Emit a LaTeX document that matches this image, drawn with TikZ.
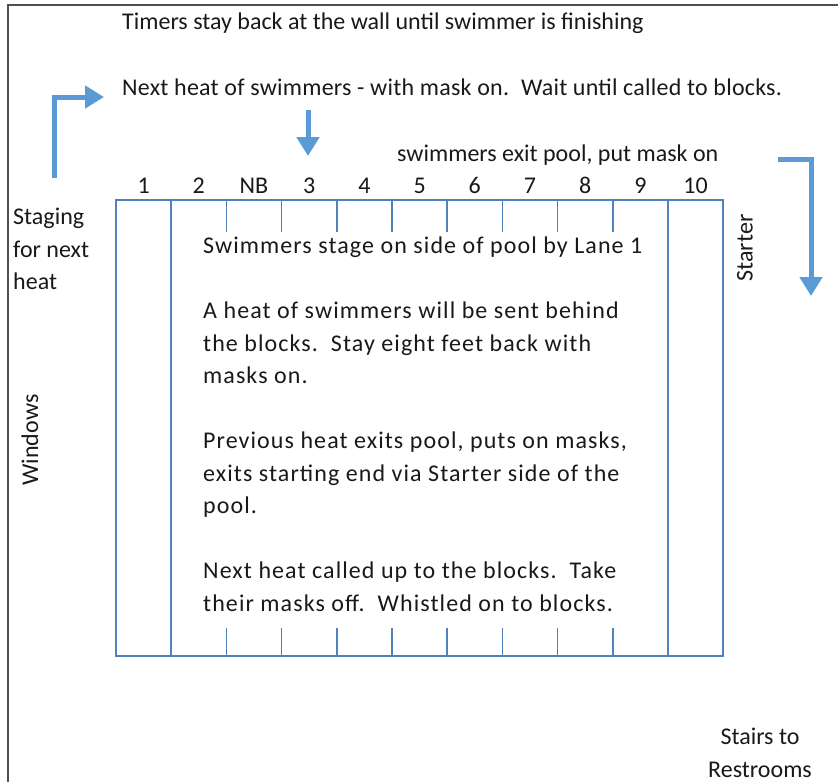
\documentclass[tikz,border=0pt]{standalone}
\usepackage{fontspec}
\setmainfont{Carlito}
\usetikzlibrary{arrows.meta}
\definecolor{poolblue}{HTML}{4F81BD}
\definecolor{flowblue}{HTML}{5B9BD5}
\definecolor{framegray}{HTML}{505050}
\tikzset{
  lbl/.style={font=\fontsize{24}{32.5}\selectfont, inner sep=0pt, text=black!90},
  block/.style={lbl, font=\fontsize{24}{32.5}\selectfont\addfontfeatures{LetterSpace=4.5}},
  poolline/.style={draw=poolblue, line width=1.5pt},
  flow/.style={draw=flowblue, line width=5pt, line join=miter, -{Triangle[length=19pt,width=22pt]}},
}
\begin{document}
\begin{tikzpicture}[x=1pt,y=-1pt]
\useasboundingbox (0,0) rectangle (838,782);
\draw [framegray, line width=2pt] (838,5) -- (8,5) -- (8,782);
\node [lbl, anchor=base west] (timers) at (122,29) {Timers stay back at the wall until swimmer is finishing};
\node [lbl, anchor=base west] (nextheat) at (122,95) {\addfontfeatures{LetterSpace=1}Next heat of swimmers - with mask on.\hspace{12pt}Wait until called to blocks.};
\node [lbl, anchor=base west] (exit) at (397,161) {swimmers exit pool, put mask on};
\node [lbl, anchor=north west, align=left] (staging) at (13,208) {Staging\\for next\\heat};
\node [lbl, rotate=90] (windows) at (30,440) {Windows};
\node [lbl, rotate=90] (starter) at (745,248) {Starter};
\node [lbl, align=center, anchor=north] (stairs) at (760,728) {Stairs to\\Restrooms};
\draw [poolline] (116,200) rectangle (723,656);
\foreach \i in {1,10}
  \draw [poolline] (116+55.2*\i,200) -- (116+55.2*\i,656);
\foreach \i in {2,...,9} {
  \draw [poolline] (116+55.2*\i,200) -- (116+55.2*\i,232);
  \draw [poolline] (116+55.2*\i,628) -- (116+55.2*\i,656);
}
\foreach \t [count=\i from 0] in {1,2,NB,3,4,5,6,7,8,9,10}
  \node [lbl, anchor=base] (lane\i) at (143.6+55.2*\i,193) {\t};
\node [block, anchor=north west, align=left] (steps) at (203,237) {Swimmers stage on side of pool by Lane 1\\[32.5pt]
A heat of swimmers will be sent behind\\the blocks.\ \ Stay eight feet back with\\masks on.\\[32.5pt]
Previous heat exits pool, puts on masks,\\exits starting end via Starter side of the\\pool.\\[32.5pt]
Next heat called up to the blocks.\ \ Take\\their masks off.\ \ Whistled on to blocks.};
\coordinate (stageout) at (54,178);
\coordinate (stagecorner) at (54,97);
\coordinate (stagetip) at (104,97);
\coordinate (downtop) at (308,110);
\coordinate (downtip) at (308,156);
\coordinate (exitstart) at (778,159);
\coordinate (exitcorner) at (811,159);
\coordinate (exittip) at (811,296);
\draw [flow] (stageout) -- (stagecorner) -- (stagetip);
\draw [flow] (downtop) -- (downtip);
\draw [flow] (exitstart) -- (exitcorner) -- (exittip);
\end{tikzpicture}
\end{document}
